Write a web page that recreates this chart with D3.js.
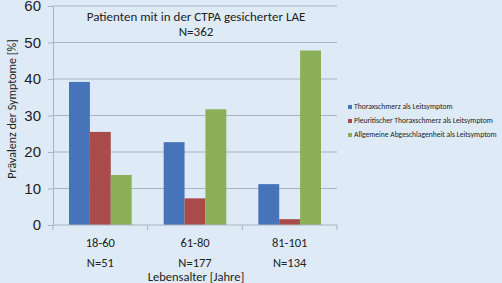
<!DOCTYPE html>
<html>
<head>
<meta charset="utf-8">
<script src="https://cdn.jsdelivr.net/npm/d3@7"></script>
<style>
  body { margin: 0; background: #deebf7; }
  svg { display: block; font-family: Calibri, Carlito, "Open Sans", sans-serif; }
</style>
</head>
<body>
<div id="mywrap"></div>
<script>
const categories = ["18-60", "61-80", "81-101"]
const groupN = ["N=51", "N=177", "N=134"]
const seriesNames = [
    "Thoraxschmerz als Leitsymptom",
    "Pleuritischer Thoraxschmerz als Leitsymptom",
    "Allgemeine Abgeschlagenheit als Leitsymptom"
]
const thorax = [39.2, 22.7, 11.2]
const pleura = [25.5, 7.3, 1.6]
const abgeschlagen = [13.7, 31.7, 47.8]
const yTicks = [0, 10, 20, 30, 40, 50, 60]
const colors = ["#4673b9", "#a94b4b", "#8aaf57"]

const series = [thorax, pleura, abgeschlagen]

let sWidth = 502, sHeight = 283
let margin = {top: 6, right: 165, bottom: 58, left: 53}
let width = sWidth - margin.left - margin.right,
    height = sHeight - margin.top - margin.bottom

let svg = d3.select("#mywrap").append("svg")
    .attr("width", sWidth)
    .attr("height", sHeight)

svg.append("rect")
    .attr("width", sWidth).attr("height", sHeight)
    .attr("fill", "#deebf7")

let g = svg.append("g").attr("transform", `translate(${margin.left},${margin.top})`)

let x0 = d3.scaleBand().domain(categories).range([0, width]).paddingInner(0).paddingOuter(0)
let x1 = d3.scaleBand().domain(d3.range(series.length)).range([16, x0.bandwidth() - 16])
let y = d3.scaleLinear().domain([0, 60]).range([height, 0])

// gridlines
g.selectAll("line.grid")
    .data(yTicks.filter(d => d > 0))
    .enter().append("line")
    .attr("class", "grid")
    .attr("x1", 0).attr("x2", width)
    .attr("y1", d => y(d)).attr("y2", d => y(d))
    .attr("stroke", "#a9b4bf").attr("stroke-width", 1)

// y axis
let yAxis = d3.axisLeft(y).tickValues(yTicks).tickSize(5).tickPadding(7)
let ya = g.append("g").call(yAxis)
ya.select(".domain").attr("stroke", "#a9b4bf")
ya.selectAll(".tick line").attr("stroke", "#a9b4bf")
ya.selectAll("text").attr("font-size", 15).attr("fill", "#222")

// bars
let grp = g.selectAll("g.cat")
    .data(categories)
    .enter().append("g")
    .attr("transform", d => `translate(${x0(d)},0)`)

grp.selectAll("rect")
    .data((d, i) => series.map((s, k) => ({k: k, v: s[i]})))
    .enter().append("rect")
    .attr("x", d => x1(d.k))
    .attr("width", x1.bandwidth())
    .attr("y", d => y(d.v))
    .attr("height", d => height - y(d.v))
    .attr("fill", d => colors[d.k])

// x axis
let xa = g.append("g").attr("transform", `translate(0,${height})`)
xa.append("line").attr("x1", 0).attr("x2", width).attr("stroke", "#a9b4bf")
xa.selectAll("line.tk")
    .data(d3.range(categories.length + 1))
    .enter().append("line")
    .attr("x1", i => i * x0.bandwidth()).attr("x2", i => i * x0.bandwidth())
    .attr("y1", 0).attr("y2", 5)
    .attr("stroke", "#a9b4bf")

xa.selectAll("text.cat")
    .data(categories)
    .enter().append("text")
    .attr("x", d => x0(d) + x0.bandwidth() / 2)
    .attr("y", 22)
    .attr("text-anchor", "middle")
    .attr("font-size", 12.5).attr("fill", "#222")
    .text(d => d)

xa.selectAll("text.n")
    .data(groupN)
    .enter().append("text")
    .attr("x", (d, i) => x0(categories[i]) + x0.bandwidth() / 2)
    .attr("y", 42)
    .attr("text-anchor", "middle")
    .attr("font-size", 12.5).attr("fill", "#222")
    .text(d => d)

svg.append("text")
    .attr("x", 196).attr("y", 281)
    .attr("text-anchor", "middle")
    .attr("font-size", 12.5).attr("fill", "#222")
    .text("Lebensalter [Jahre]")

svg.append("text")
    .attr("transform", "translate(16,109) rotate(-90)")
    .attr("text-anchor", "middle")
    .attr("font-size", 12).attr("fill", "#222")
    .text("Prävalenz der Symptome [%]")

// title
svg.append("text")
    .attr("x", 196).attr("y", 21)
    .attr("text-anchor", "middle")
    .attr("font-size", 13).attr("fill", "#222")
    .text("Patienten mit in der CTPA gesicherter LAE")
svg.append("text")
    .attr("x", 196).attr("y", 36)
    .attr("text-anchor", "middle")
    .attr("font-size", 13).attr("fill", "#222")
    .text("N=362")

// legend
let leg = svg.selectAll("g.leg")
    .data(seriesNames)
    .enter().append("g")
    .attr("transform", (d, i) => `translate(348,${109 + i * 14})`)
leg.append("rect")
    .attr("x", 0).attr("y", -4).attr("width", 4).attr("height", 4)
    .attr("fill", (d, i) => colors[i])
leg.append("text")
    .attr("x", 6).attr("y", 0)
    .attr("font-size", 7.6).attr("fill", "#222")
    .text(d => d)
</script>
</body>
</html>
